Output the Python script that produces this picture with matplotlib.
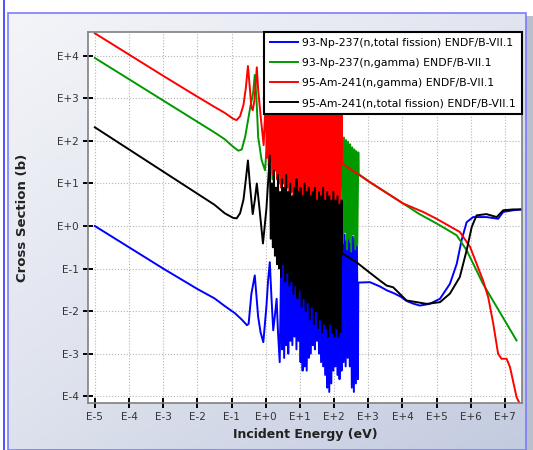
import numpy as np
import matplotlib
matplotlib.use('Agg')
import matplotlib.pyplot as plt
from matplotlib.colors import LinearSegmentedColormap
from matplotlib.patches import Rectangle
from matplotlib.lines import Line2D

# values, stored as log10(E/eV) and log10(sigma/b)
# each curve = smooth low-energy part + resonance region + smooth high-energy part

# 93-Np-237 (n,total fission)
np_fis_lo_E = [-5.0, -4.0, -3.0, -2.0, -1.5, -1.2, -0.9, -0.7, -0.55, -0.5, -0.42, -0.32,
               -0.22, -0.15, -0.07, 0.02, 0.07, 0.12, 0.17, 0.22, 0.27, 0.32, 0.36, 0.41]
np_fis_lo_xs = [0.0, -0.5, -1.0, -1.48, -1.70, -1.88, -2.05, -2.20, -2.33, -2.30, -1.60, -1.16,
                -2.14, -2.50, -2.73, -1.90, -1.28, -0.85, -1.70, -2.45, -2.10, -1.71, -2.50, -3.20]
np_fis_res_E = [0.45, 0.48, 0.51, 0.54, 0.57, 0.60, 0.63, 0.66, 0.69, 0.72, 0.75, 0.78,
                0.81, 0.84, 0.87, 0.90, 0.93, 0.96, 0.99, 1.02, 1.05, 1.08, 1.11, 1.14,
                1.17, 1.20, 1.23, 1.26, 1.29, 1.32, 1.35, 1.38, 1.41, 1.44, 1.47, 1.50,
                1.53, 1.56, 1.59, 1.62, 1.65, 1.68, 1.71, 1.74, 1.77, 1.80, 1.83, 1.86,
                1.89, 1.92, 1.95, 1.98, 2.01, 2.04, 2.07, 2.10, 2.13, 2.16, 2.19, 2.22,
                2.25, 2.28, 2.31, 2.34, 2.37, 2.40, 2.43, 2.46, 2.49, 2.52, 2.55, 2.58,
                2.61, 2.64, 2.67, 2.70]
np_fis_res_xs = [-1.0, -2.9, -0.7, -3.1, -0.9, -2.8, -0.65, -3.0, -1.1, -2.7, -0.8, -2.8,
                 -1.0, -2.6, -0.9, -2.9, -1.1, -2.7, -0.9, -3.2, -1.2, -3.4, -0.8, -3.3,
                 -1.1, -3.4, -0.9, -3.1, -1.2, -3.0, -1.0, -2.8, -1.2, -2.9, -1.0, -2.7,
                 -1.3, -3.0, -0.9, -3.2, -1.1, -3.3, -1.0, -3.5, -1.2, -3.8, -0.9, -3.9,
                 -1.1, -3.7, -1.0, -3.4, -1.2, -3.3, -0.9, -3.5, -1.1, -3.6, -0.8, -3.4,
                 -0.3, -3.2, -0.2, -3.3, -0.35, -3.1, -0.15, -3.3, -0.4, -3.8, -0.25, -3.9,
                 -0.3, -3.7, -0.45, -3.6]
np_fis_hi_E = [2.71, 3.05, 3.34, 3.54, 3.75, 3.95, 4.12, 4.30, 4.51, 4.80, 5.10, 5.39,
               5.59, 5.73, 5.88, 6.07, 6.46, 6.80, 6.95, 7.24, 7.49]
np_fis_hi_xs = [-1.33, -1.32, -1.42, -1.51, -1.58, -1.66, -1.76, -1.82, -1.87, -1.83, -1.71, -1.36,
                -0.89, -0.34, 0.09, 0.21, 0.21, 0.17, 0.33, 0.37, 0.39]

# 93-Np-237 (n,gamma)
np_gam_lo_E = [-5.0, -4.0, -3.0, -2.0, -1.5, -1.2, -0.95, -0.8, -0.7, -0.6, -0.45, -0.37,
               -0.32, -0.27, -0.22, -0.12, -0.02]
np_gam_lo_xs = [3.95, 3.45, 2.95, 2.45, 2.20, 2.04, 1.86, 1.77, 1.80, 2.10, 2.80, 3.12,
                3.55, 3.00, 2.09, 1.55, 1.31]
np_gam_res_E = [0.1, 0.2, 0.3, 0.4, 0.5, 0.6, 0.7, 0.8, 0.9, 1.0, 1.1, 1.2, 1.3, 1.4, 1.5,
                1.6, 1.7, 1.8, 1.9, 2.0, 2.1, 2.2,
                2.23, 2.26, 2.29, 2.32, 2.35, 2.38, 2.41, 2.44, 2.47, 2.50, 2.53, 2.56,
                2.59, 2.62, 2.65, 2.68, 2.71]
np_gam_res_xs = [2.7, 1.1, 2.8, 1.0, 2.7, 1.2, 2.8, 1.0, 2.6, 1.1, 2.8, 0.9, 2.7, 1.0, 2.6,
                 0.9, 2.7, 1.0, 2.6, 0.8, 2.5, 0.9,
                 2.13, -0.40, 2.08, -0.15, 2.02, -0.55, 1.98, -0.30, 1.92, -0.60, 1.85, -0.20,
                 1.80, -0.55, 1.76, -0.45, 1.73]
np_gam_hi_E = [2.72, 3.05, 4.02, 4.50, 5.00, 5.30, 5.59, 5.88, 6.36, 7.34]
np_gam_hi_xs = [1.22, 1.03, 0.53, 0.28, 0.06, -0.08, -0.22, -0.57, -1.36, -2.69]

# 95-Am-241 (n,gamma)
am_gam_lo_E = [-5.0, -4.0, -3.0, -2.0, -1.5, -1.2, -0.95, -0.85, -0.75, -0.65, -0.58, -0.52,
               -0.47, -0.42, -0.38, -0.33, -0.26, -0.22, -0.15, -0.06]
am_gam_lo_xs = [4.53, 4.03, 3.53, 3.04, 2.80, 2.66, 2.52, 2.49, 2.58, 2.85, 3.25, 3.76,
                3.30, 2.80, 2.72, 2.95, 3.73, 3.20, 2.60, 1.90]
am_gam_res_E = [0.00, 0.03, 0.06, 0.09, 0.12, 0.15, 0.18, 0.21, 0.24, 0.27, 0.30, 0.33,
                0.36, 0.39, 0.42, 0.45, 0.48, 0.51, 0.54, 0.57, 0.60, 0.63, 0.66, 0.69,
                0.72, 0.75, 0.78, 0.81, 0.84, 0.87, 0.90, 0.93, 0.96, 0.99, 1.02, 1.05,
                1.08, 1.11, 1.14, 1.17, 1.20, 1.23, 1.26, 1.29, 1.32, 1.35, 1.38, 1.41,
                1.44, 1.47, 1.50, 1.53, 1.56, 1.59, 1.62, 1.65, 1.68, 1.71, 1.74, 1.77,
                1.80, 1.83, 1.86, 1.89, 1.92, 1.95, 1.98, 2.01, 2.04, 2.07, 2.10, 2.13,
                2.16, 2.19, 2.22]
am_gam_res_xs = [3.0, 1.6, 3.1, 1.4, 3.2, 1.5, 2.9, 1.2, 3.3, 1.3, 3.0, 1.1,
                 3.1, 1.2, 3.2, 0.9, 2.9, 1.0, 3.3, 0.8, 3.0, 0.9, 3.1, 0.7,
                 2.9, 0.8, 3.2, 0.6, 3.0, 0.7, 3.1, 0.5, 2.9, 0.6, 3.2, 0.4,
                 3.0, 0.6, 3.1, 0.3, 2.9, 0.5, 3.2, 0.4, 3.0, 0.3, 3.1, 0.5,
                 2.9, 0.2, 3.0, 0.4, 3.1, 0.3, 2.8, 0.5, 3.0, 0.2, 2.9, 0.4,
                 3.0, 0.1, 2.8, 0.3, 2.9, 0.2, 3.0, 0.1, 2.8, 0.3, 2.9, 0.1,
                 2.8, 0.2, 2.7]
am_gam_hi_E = [2.23, 3.05, 4.02, 4.61, 5.00, 5.68, 5.98, 6.36, 6.51, 6.66, 6.80, 6.90,
               7.05, 7.15, 7.34, 7.45]
am_gam_hi_xs = [1.47, 1.03, 0.53, 0.33, 0.17, -0.14, -0.49, -1.28, -1.67, -2.30, -3.00, -3.12,
                -3.12, -3.32, -4.02, -4.20]

# 95-Am-241 (n,total fission)
am_fis_lo_E = [-5.0, -4.0, -3.0, -2.0, -1.5, -1.2, -0.95, -0.85, -0.75, -0.65, -0.58, -0.52,
               -0.46, -0.38, -0.32, -0.26, -0.20, -0.08, 0.02, 0.12]
am_fis_lo_xs = [2.32, 1.80, 1.28, 0.76, 0.50, 0.30, 0.19, 0.18, 0.30, 0.62, 1.10, 1.54,
                0.95, 0.28, 0.60, 1.00, 0.55, -0.41, 0.40, 1.66]
am_fis_res_E = [0.15, 0.18, 0.21, 0.24, 0.27, 0.30, 0.33, 0.36, 0.39, 0.42, 0.45, 0.48,
                0.51, 0.54, 0.57, 0.60, 0.63, 0.66, 0.69, 0.72, 0.75, 0.78, 0.81, 0.84,
                0.87, 0.90, 0.93, 0.96, 0.99, 1.02, 1.05, 1.08, 1.11, 1.14, 1.17, 1.20,
                1.23, 1.26, 1.29, 1.32, 1.35, 1.38, 1.41, 1.44, 1.47, 1.50, 1.53, 1.56,
                1.59, 1.62, 1.65, 1.68, 1.71, 1.74, 1.77, 1.80, 1.83, 1.86, 1.89, 1.92,
                1.95, 1.98, 2.01, 2.04, 2.07, 2.10, 2.13, 2.16, 2.19, 2.22]
am_fis_res_xs = [-0.3, 1.0, -0.5, 1.3, -0.7, 0.9, -0.9, 1.2, -1.0, 0.8, -1.2, 1.1,
                 -0.9, 0.9, -1.3, 1.2, -1.1, 0.8, -1.4, 1.0, -1.3, 0.7, -1.6, 0.9,
                 -1.4, 1.1, -1.7, 0.8, -1.5, 0.9, -1.9, 0.7, -1.7, 1.0, -2.0, 0.8,
                 -1.8, 0.9, -2.2, 0.7, -1.9, 0.8, -2.3, 0.9, -2.0, 0.6, -2.4, 0.8,
                 -2.2, 0.7, -2.5, 0.9, -2.3, 0.6, -2.4, 0.8, -2.6, 0.7, -2.3, 0.6,
                 -2.5, 0.8, -2.6, 0.6, -2.4, 0.7, -2.6, 0.5, -2.5, 0.6]
am_fis_hi_E = [2.23, 2.67, 3.05, 3.34, 3.54, 3.73, 4.12, 4.42, 4.71, 5.10, 5.39, 5.68,
               5.88, 6.03, 6.17, 6.46, 6.76, 6.95, 7.24, 7.49]
am_fis_hi_xs = [-0.64, -0.86, -1.10, -1.28, -1.40, -1.44, -1.75, -1.79, -1.83, -1.79, -1.59, -1.20,
                -0.57, -0.02, 0.25, 0.28, 0.21, 0.37, 0.39, 0.39]

series = [
    (np_fis_lo_E + np_fis_res_E + np_fis_hi_E, np_fis_lo_xs + np_fis_res_xs + np_fis_hi_xs,
     '#0000ff', '93-Np-237(n,total fission) ENDF/B-VII.1'),
    (np_gam_lo_E + np_gam_res_E + np_gam_hi_E, np_gam_lo_xs + np_gam_res_xs + np_gam_hi_xs,
     '#009900', '93-Np-237(n,gamma) ENDF/B-VII.1'),
    (am_gam_lo_E + am_gam_res_E + am_gam_hi_E, am_gam_lo_xs + am_gam_res_xs + am_gam_hi_xs,
     '#ff0000', '95-Am-241(n,gamma) ENDF/B-VII.1'),
    (am_fis_lo_E + am_fis_res_E + am_fis_hi_E, am_fis_lo_xs + am_fis_res_xs + am_fis_hi_xs,
     '#000000', '95-Am-241(n,total fission) ENDF/B-VII.1'),
]

fig = plt.figure(figsize=(5.33, 4.5), dpi=100)
W, H = 533.0, 450.0

# gradient panel behind the plot
bg = fig.add_axes([8 / W, 0, (526 - 8) / W, (450 - 13) / H], zorder=-10)
cmap = LinearSegmentedColormap.from_list('panel', ['#f4f5f9', '#dfe3ee', '#c3cbdf'])
gx, gy = np.meshgrid(np.linspace(0, 1, 200), np.linspace(0, 1, 200))
bg.imshow(0.45 * gx + 0.55 * gy, cmap=cmap, aspect='auto', extent=[0, 1, 1, 0])
bg.set_xlim(0, 1)
bg.set_ylim(1, 0)
bg.axis('off')
fig.patches.append(Rectangle((8 / W, 0), (526 - 8) / W, (450 - 13) / H,
                             transform=fig.transFigure, fill=False,
                             edgecolor='#7b7bff', linewidth=1.2, zorder=5))
fig.patches.append(Rectangle((526 / W, 0), 7 / W, (450 - 16) / H,
                             transform=fig.transFigure, facecolor='#b9bfcc',
                             edgecolor='none', zorder=-11))
fig.lines.append(Line2D([4 / W, 4 / W], [0, 1], transform=fig.transFigure,
                        color='#3333ff', linewidth=1.2))

ax = fig.add_axes([88 / W, 1 - 403 / H, (522 - 88) / W, (403 - 32) / H])
ax.set_facecolor('white')

for E, xs, col, lab in series:
    ax.plot(10.0 ** np.array(E), 10.0 ** np.array(xs), color=col, lw=1.4, label=lab)

ax.set_xscale('log')
ax.set_yscale('log')
ax.set_xlim(10 ** -5.2, 10 ** 7.5)
ax.set_ylim(10 ** -4.16, 10 ** 4.56)

xt = list(range(-5, 8))
yt = list(range(-4, 5))
ax.set_xticks([10.0 ** k for k in xt])
ax.set_xticklabels(['E%+d' % k for k in xt])
ax.set_yticks([10.0 ** k for k in yt])
ax.set_yticklabels(['E%+d' % k for k in yt])
ax.minorticks_off()
ax.tick_params(direction='inout', length=7, width=1.4, color='black',
               labelsize=7.5, labelcolor='#333333', pad=3)
for s in ax.spines.values():
    s.set_color('#808080')
    s.set_linewidth(1.2)
ax.grid(True, ls=':', color='#b5b5b5', lw=0.8)

ax.set_xlabel('Incident Energy (eV)', fontsize=9, fontweight='bold', color='#222222', labelpad=4)
ax.set_ylabel('Cross Section (b)', fontsize=9.5, fontweight='bold', color='#222222', labelpad=20)

leg = ax.legend(loc='upper right', bbox_to_anchor=(1, 1), borderaxespad=0, fontsize=7.8,
                fancybox=False, edgecolor='black', framealpha=1, handlelength=2.6,
                handletextpad=0.4, labelspacing=0.93, borderpad=0.55)
leg.get_frame().set_linewidth(1.5)

fig.savefig('out.png', dpi=100)
